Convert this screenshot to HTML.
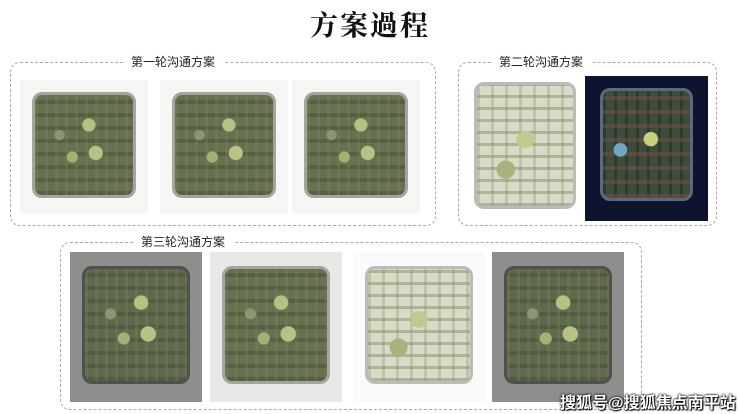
<!DOCTYPE html>
<html><head><meta charset="utf-8"><style>
body{margin:0;width:740px;height:414px;background:#fff;position:relative;overflow:hidden;font-family:"Liberation Sans","Noto Sans CJK SC",sans-serif}
.t{position:absolute;left:0;width:740px;top:4px;text-align:center;font:bold 28px "Noto Serif CJK SC",serif;color:#111;letter-spacing:2px}
.box{position:absolute;border:1px dashed #aaa;border-radius:10px}
.lb{position:absolute;top:-9px;background:#fff;padding:0 8px;font-size:12px;color:#222;line-height:16px}
.im{position:absolute;background:#f6f6f4}
.im .s{position:absolute;left:9%;top:9%;right:9%;bottom:12%;border-radius:10px;background:
radial-gradient(circle at 55% 30%,#b7c281 0 7%,transparent 8%),
radial-gradient(circle at 62% 58%,#b9c284 0 8%,transparent 9%),
radial-gradient(circle at 38% 62%,#a3b274 0 6%,transparent 7%),
radial-gradient(circle at 25% 40%,#8c9670 0 5%,transparent 6%),
repeating-linear-gradient(90deg,rgba(120,130,100,.35) 0 3px,transparent 3px 10px),
repeating-linear-gradient(0deg,rgba(60,70,50,.4) 0 4px,transparent 4px 13px),
#66714f;border:3px solid #a5a5a0}
.g{background:#8e8e8c}.g .s{border-color:#505050;background-color:#5e6a4c}
.d{background:#0e1430}.d .s{background:radial-gradient(circle at 55% 45%,#c9cf7a 0 9%,transparent 10%),radial-gradient(circle at 20% 55%,#6fa7c7 0 7%,transparent 8%),repeating-linear-gradient(0deg,rgba(110,80,65,.6) 0 4px,transparent 4px 14px),repeating-linear-gradient(90deg,rgba(30,40,30,.5) 0 3px,transparent 3px 11px),#3e4c3e;border-color:#5a6a7a}
.l .s{background:radial-gradient(circle at 50% 45%,#c2c98e 0 10%,transparent 11%),radial-gradient(circle at 30% 70%,#a8b27e 0 8%,transparent 9%),repeating-linear-gradient(0deg,rgba(130,145,100,.5) 0 3px,transparent 3px 12px),repeating-linear-gradient(90deg,rgba(130,145,100,.3) 0 3px,transparent 3px 14px),#d7dbc8;border-color:#bbb}
.wm{position:absolute;left:560px;top:389px;font-size:16px;font-weight:bold;color:#fff;text-shadow:0 0 2px #000,0 0 2px #000,1px 1px 1px #000}
</style></head><body>
<div class="t">方案過程</div>
<div class="box" style="left:10px;top:62px;width:424px;height:162px"><div class="lb" style="left:112px">第一轮沟通方案</div></div>
<div class="im" style="left:20px;top:80px;width:128px;height:134px"><div class="s"></div></div>
<div class="im" style="left:160px;top:80px;width:128px;height:134px"><div class="s"></div></div>
<div class="im" style="left:292px;top:80px;width:128px;height:134px"><div class="s"></div></div>
<div class="box" style="left:458px;top:62px;width:257px;height:162px"><div class="lb" style="left:32px">第二轮沟通方案</div></div>
<div class="im l" style="left:469px;top:76px;width:114px;height:145px;background:#fff"><div class="s" style="left:4%;right:6%;top:4%;bottom:8%"></div></div>
<div class="im d" style="left:585px;top:76px;width:123px;height:145px"><div class="s" style="left:12%;right:12%;top:8%;bottom:14%"></div></div>
<div class="box" style="left:60px;top:242px;width:580px;height:166px"><div class="lb" style="left:72px">第三轮沟通方案</div></div>
<div class="im g" style="left:70px;top:252px;width:132px;height:150px"><div class="s"></div></div>
<div class="im" style="left:210px;top:252px;width:132px;height:150px;background:#e8e8e6"><div class="s"></div></div>
<div class="im l" style="left:353px;top:252px;width:132px;height:150px;background:#fafafa"><div class="s"></div></div>
<div class="im g" style="left:492px;top:252px;width:132px;height:150px"><div class="s"></div></div>
<div class="wm">搜狐号@搜狐焦点南平站</div>
</body></html>
